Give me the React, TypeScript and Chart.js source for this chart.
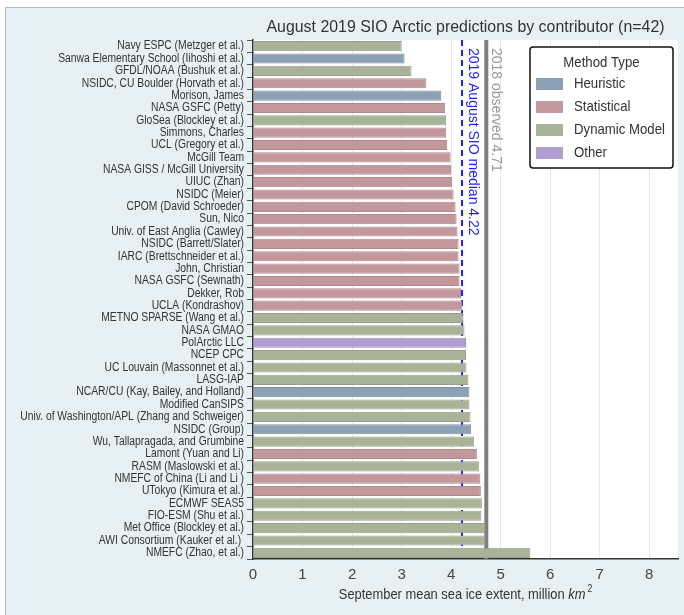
import { useEffect, useRef } from "react";
import { Chart, registerables } from "chart.js";

Chart.register(...registerables);

const contributors = [
  "Navy ESPC (Metzger et al.)",
  "Sanwa Elementary School (Iihoshi et al.)",
  "GFDL/NOAA (Bushuk et al.)",
  "NSIDC, CU Boulder (Horvath et al.)",
  "Morison, James",
  "NASA GSFC (Petty)",
  "GloSea (Blockley et al.)",
  "Simmons, Charles",
  "UCL (Gregory et al.)",
  "McGill Team",
  "NASA GISS / McGill University",
  "UIUC (Zhan)",
  "NSIDC (Meier)",
  "CPOM (David Schroeder)",
  "Sun, Nico",
  "Univ. of East Anglia (Cawley)",
  "NSIDC (Barrett/Slater)",
  "IARC (Brettschneider et al.)",
  "John, Christian",
  "NASA GSFC (Sewnath)",
  "Dekker, Rob",
  "UCLA (Kondrashov)",
  "METNO SPARSE (Wang et al.)",
  "NASA GMAO",
  "PolArctic LLC",
  "NCEP CPC",
  "UC Louvain (Massonnet et al.)",
  "LASG-IAP",
  "NCAR/CU (Kay, Bailey, and Holland)",
  "Modified CanSIPS",
  "Univ. of Washington/APL (Zhang and Schweiger)",
  "NSIDC (Group)",
  "Wu, Tallapragada, and Grumbine",
  "Lamont (Yuan and Li)",
  "RASM (Maslowski et al.)",
  "NMEFC of China (Li and Li )",
  "UTokyo (Kimura et al.)",
  "ECMWF SEAS5",
  "FIO-ESM (Shu et al.)",
  "Met Office (Blockley et al.)",
  "AWI Consortium (Kauker et al.) ",
  "NMEFC (Zhao, et al.)",
];

const extents = [
  3.0, 3.06, 3.2, 3.5, 3.8, 3.88, 3.9, 3.9, 3.92, 3.99,
  4.0, 4.02, 4.05, 4.09, 4.11, 4.13, 4.15, 4.15, 4.17, 4.17,
  4.2, 4.23, 4.25, 4.27, 4.3, 4.3, 4.31, 4.35, 4.37, 4.37,
  4.39, 4.4, 4.46, 4.52, 4.56, 4.59, 4.6, 4.62, 4.61, 4.69,
  4.69, 5.6,
];

const methods = [
  "Dynamic Model", "Heuristic", "Dynamic Model", "Statistical", "Heuristic",
  "Statistical", "Dynamic Model", "Statistical", "Statistical", "Statistical",
  "Statistical", "Statistical", "Statistical", "Statistical", "Statistical",
  "Statistical", "Statistical", "Statistical", "Statistical", "Statistical",
  "Statistical", "Statistical", "Dynamic Model", "Dynamic Model", "Other",
  "Dynamic Model", "Dynamic Model", "Dynamic Model", "Heuristic", "Dynamic Model",
  "Dynamic Model", "Heuristic", "Dynamic Model", "Statistical", "Dynamic Model",
  "Statistical", "Statistical", "Dynamic Model", "Dynamic Model", "Dynamic Model",
  "Dynamic Model", "Dynamic Model",
];

const methodTypes = ["Heuristic", "Statistical", "Dynamic Model", "Other"];
const methodColors = ["#8da1b5", "#c3989c", "#a9b397", "#b19fd3"];
const methodBorders = ["#7f91a2", "#b0898c", "#989f86", "#9f8fbe"];

const xTickValues = [0, 1, 2, 3, 4, 5, 6, 7, 8];
const xMax = 8.58;

const sioMedian = 4.22;
const observed2018 = 4.71;

const chartTitle = "August 2019 SIO Arctic predictions by contributor (n=42)";
const axisTitleParts = ["September mean sea ice extent, million ", "km", "2"];
const medianLabel = "2019 August SIO median 4.22";
const observedLabel = "2018 observed 4.71";
const legendTitle = "Method Type";

const FONT = "'Liberation Sans', Arial, sans-serif";

function squeezedText(
  ctx: CanvasRenderingContext2D,
  s: string,
  x: number,
  y: number,
  align: CanvasTextAlign,
  sx: number
) {
  ctx.save();
  ctx.translate(x, y);
  ctx.scale(sx, 1);
  ctx.textAlign = align;
  ctx.fillText(s, 0, 0);
  ctx.restore();
}

const backgroundPlugin = {
  id: "bg",
  beforeDraw(chart: any) {
    const { ctx, width, height, chartArea } = chart;
    ctx.save();
    ctx.fillStyle = "#ffffff";
    ctx.fillRect(0, 0, width, height);
    ctx.fillStyle = "#e7f0f2";
    ctx.fillRect(5, 7, width - 5, height - 7);
    ctx.strokeStyle = "#b4b8ba";
    ctx.lineWidth = 1;
    ctx.beginPath();
    ctx.moveTo(5.5, height);
    ctx.lineTo(5.5, 7.5);
    ctx.lineTo(width, 7.5);
    ctx.stroke();
    ctx.fillStyle = "#ffffff";
    ctx.fillRect(chartArea.left, chartArea.top, chartArea.right - chartArea.left, chartArea.bottom - chartArea.top);
    ctx.restore();
  },
};

const refLinesPlugin = {
  id: "refLines",
  beforeDatasetsDraw(chart: any) {
    const { ctx, chartArea, scales } = chart;
    const xo = scales.x.getPixelForValue(observed2018);
    const xm = scales.x.getPixelForValue(sioMedian);
    ctx.save();
    ctx.strokeStyle = "#7f7f7f";
    ctx.lineWidth = 4;
    ctx.beginPath();
    ctx.moveTo(xo, chartArea.top);
    ctx.lineTo(xo, chartArea.bottom);
    ctx.stroke();
    ctx.strokeStyle = "#1f1fff";
    ctx.lineWidth = 2;
    ctx.setLineDash([6, 4]);
    ctx.beginPath();
    ctx.moveTo(xm, chartArea.top);
    ctx.lineTo(xm, chartArea.bottom);
    ctx.stroke();
    ctx.restore();
  },
};

const yLabelsPlugin = {
  id: "yLabels",
  afterDraw(chart: any) {
    const { ctx, scales } = chart;
    const y = scales.y;
    ctx.save();
    ctx.fillStyle = "#333333";
    ctx.font = `12px ${FONT}`;
    ctx.textBaseline = "middle";
    const right = y.right - 6 - 3;
    y.ticks.forEach((t: any, i: number) => {
      const label = y.getLabelForValue(t.value);
      squeezedText(ctx, label, right, y.getPixelForTick(i), "right", 0.86);
    });
    ctx.restore();
  },
};

const annotationsPlugin = {
  id: "annotations",
  afterDraw(chart: any) {
    const { ctx, chartArea, scales } = chart;
    const xo = scales.x.getPixelForValue(observed2018);
    const xm = scales.x.getPixelForValue(sioMedian);
    ctx.save();
    // rotated labels
    ctx.font = `14px ${FONT}`;
    ctx.textBaseline = "middle";
    ctx.textAlign = "left";
    ctx.save();
    ctx.translate(xm + 11, chartArea.top + 8);
    ctx.rotate(Math.PI / 2);
    ctx.fillStyle = "#1f1fff";
    ctx.fillText(medianLabel, 0, 0);
    ctx.restore();
    ctx.save();
    ctx.translate(xo + 10, chartArea.top + 8);
    ctx.rotate(Math.PI / 2);
    ctx.fillStyle = "#9a9a9a";
    ctx.fillText(observedLabel, 0, 0);
    ctx.restore();

    // title
    ctx.fillStyle = "#333333";
    ctx.font = `17px ${FONT}`;
    ctx.textBaseline = "middle";
    squeezedText(ctx, chartTitle, (chartArea.left + chartArea.right) / 2, 27, "center", 0.935);

    // axis title
    const SXA = 0.86;
    ctx.fillStyle = "#333333";
    const f1 = `15px ${FONT}`;
    const f2 = `italic 15px ${FONT}`;
    const f3 = `10px ${FONT}`;
    ctx.font = f1;
    const w1 = ctx.measureText(axisTitleParts[0]).width * SXA;
    ctx.font = f2;
    const w2 = ctx.measureText(axisTitleParts[1]).width * SXA;
    ctx.font = f3;
    const w3 = ctx.measureText(axisTitleParts[2]).width * SXA;
    const total = w1 + w2 + 2 + w3;
    let ax = (chartArea.left + chartArea.right) / 2 - total / 2;
    const ay = 595;
    ctx.textBaseline = "middle";
    ctx.font = f1;
    squeezedText(ctx, axisTitleParts[0], ax, ay, "left", SXA);
    ax += w1;
    ctx.font = f2;
    squeezedText(ctx, axisTitleParts[1], ax, ay, "left", SXA);
    ax += w2 + 2;
    ctx.font = f3;
    squeezedText(ctx, axisTitleParts[2], ax, ay - 6, "left", SXA);

    // legend
    const bw = 143;
    const bh = 121;
    const bx = chartArea.right - 5 - bw;
    const by = chartArea.top + 7;
    ctx.fillStyle = "#ffffff";
    ctx.strokeStyle = "#111111";
    ctx.lineWidth = 1.5;
    ctx.beginPath();
    (ctx as any).roundRect(bx, by, bw, bh, 3);
    ctx.fill();
    ctx.stroke();
    ctx.fillStyle = "#333333";
    ctx.font = `15px ${FONT}`;
    ctx.textBaseline = "middle";
    squeezedText(ctx, legendTitle, bx + bw / 2, by + 16, "center", 0.88);
    methodTypes.forEach((m, i) => {
      const cy = by + 37 + i * 23;
      ctx.fillStyle = methodColors[i];
      ctx.fillRect(bx + 6, cy - 6, 27, 12);
      ctx.fillStyle = "#333333";
      squeezedText(ctx, m, bx + 44, cy, "left", 0.88);
    });
    ctx.restore();
  },
};

export default function App() {
  const ref = useRef<HTMLCanvasElement | null>(null);
  useEffect(() => {
    document.body.style.margin = "0";
    const canvas = ref.current;
    if (!canvas) return;
    const chart = new Chart(canvas, {
      type: "bar",
      data: {
        labels: contributors,
        datasets: [
          {
            data: extents,
            backgroundColor: methods.map((m) => methodColors[methodTypes.indexOf(m)]),
            borderColor: methods.map((m) => methodBorders[methodTypes.indexOf(m)]),
            borderWidth: 1,
            barPercentage: 0.82,
            categoryPercentage: 1,
          },
        ],
      },
      options: {
        indexAxis: "y",
        responsive: false,
        animation: false,
        layout: { padding: { left: 0, right: 6, top: 40, bottom: 0 } },
        plugins: {
          legend: { display: false },
          tooltip: { enabled: false },
          title: { display: false },
        },
        scales: {
          x: {
            type: "linear",
            min: 0,
            max: xMax,
            afterBuildTicks: (scale: any) => {
              scale.ticks = xTickValues.map((v) => ({ value: v }));
            },
            afterFit: (scale: any) => {
              scale.height = 56;
            },
            grid: { color: "#e2ebee", drawTicks: false, lineWidth: 1 },
            border: { color: "#333333", width: 1.5 },
            ticks: {
              padding: 7,
              color: "#444444",
              font: { family: FONT, size: 15 },
            },
          },
          y: {
            type: "category",
            afterFit: (scale: any) => {
              scale.width = 253;
            },
            grid: { drawOnChartArea: false, drawTicks: true, tickLength: 6, color: "#555555" },
            border: { color: "#333333", width: 1.5 },
            ticks: {
              display: false,
              autoSkip: false,
            },
          },
        },
      },
      plugins: [backgroundPlugin, refLinesPlugin, yLabelsPlugin, annotationsPlugin],
    } as any);
    return () => chart.destroy();
  }, []);
  return (
    <div style={{ width: 684, height: 615 }}>
      <canvas ref={ref} width={684} height={615} />
    </div>
  );
}
